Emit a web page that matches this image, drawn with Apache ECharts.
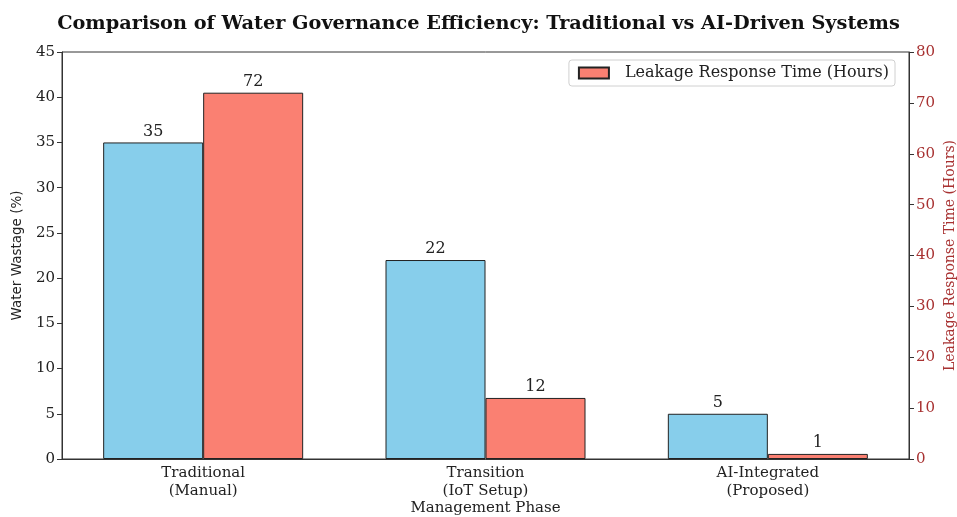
<!DOCTYPE html>
<html>
<head>
<meta charset="utf-8">
<script src="https://cdn.jsdelivr.net/npm/echarts@6/dist/echarts.min.js"></script>
<style>html,body{margin:0;padding:0;background:#fff;}#c{width:957px;height:517px;}</style>
</head>
<body>
<div id="c"></div>
<script>
const categories = ['Traditional\n(Manual)', 'Transition\n(IoT Setup)', 'AI-Integrated\n(Proposed)'];
const wastage = [35, 22, 5];
const responseTime = [72, 12, 1];
const leftTicks = {min: 0, max: 45, interval: 5};
const rightTicks = {min: 0, max: 80, interval: 10};

const serif = '"DejaVu Serif", serif';
const red = '#a83232';
const chart = echarts.init(document.getElementById('c'));
chart.setOption({
  backgroundColor: '#fff',
  animation: false,
  title: {
    text: 'Comparison of Water Governance Efficiency: Traditional vs AI-Driven Systems',
    left: 'center', top: 9,
    textStyle: {fontFamily: serif, fontWeight: 'bold', fontSize: 19.3, color: '#111'}
  },
  legend: {
    data: ['Leakage Response Time (Hours)'],
    right: 62, top: 60, icon: 'rect',
    itemWidth: 30, itemHeight: 11, itemGap: 10,
    borderColor: '#d0d0d0', borderWidth: 1, borderRadius: 3,
    padding: [5, 6, 5, 9], backgroundColor: '#fff',
    textStyle: {fontFamily: serif, fontSize: 16, color: '#222', padding: [0, 0, 0, 11]}
  },
  grid: {left: 62, right: 48, top: 52, bottom: 58, outerBoundsMode: 'none', containLabel: false,
    show: true, borderColor: '#333', borderWidth: 1, backgroundColor: 'transparent'},
  xAxis: {
    type: 'category', data: categories,
    name: 'Management Phase', nameLocation: 'middle', nameGap: 42, nameMoveOverlap: false,
    nameTextStyle: {fontFamily: serif, fontSize: 15, color: '#222'},
    axisLine: {lineStyle: {color: '#333'}},
    axisTick: {alignWithLabel: true, length: 5, lineStyle: {color: '#333'}},
    axisLabel: {fontFamily: serif, fontSize: 15, color: '#222', lineHeight: 18, margin: 5}
  },
  yAxis: [{
    type: 'value', min: leftTicks.min, max: leftTicks.max, interval: leftTicks.interval,
    name: 'Water Wastage (%)', nameLocation: 'middle', nameGap: 38, nameMoveOverlap: false,
    nameTextStyle: {fontFamily: '"DejaVu Sans", sans-serif', fontSize: 13.5, color: '#222'},
    axisLine: {show: true, lineStyle: {color: '#333'}},
    axisTick: {show: true, length: 5, lineStyle: {color: '#333'}},
    axisLabel: {fontFamily: serif, fontSize: 15, color: '#222', margin: 7},
    splitLine: {show: false}
  }, {
    type: 'value', min: rightTicks.min, max: rightTicks.max, interval: rightTicks.interval,
    position: 'right',
    name: 'Leakage Response Time (Hours)', nameLocation: 'middle', nameGap: 34, nameRotate: 90, nameMoveOverlap: false,
    nameTextStyle: {fontFamily: serif, fontSize: 14, color: red},
    axisLine: {show: true, lineStyle: {color: '#333'}},
    axisTick: {show: true, length: 5, lineStyle: {color: '#333'}},
    axisLabel: {fontFamily: serif, fontSize: 15, color: red, margin: 7},
    splitLine: {show: false}
  }],
  series: [{
    name: 'Water Wastage (%)', type: 'bar', yAxisIndex: 0, data: wastage,
    barWidth: 100, barGap: '0%',
    itemStyle: {color: '#87CEEB', borderColor: '#222', borderWidth: 1},
    label: {show: true, position: 'top', distance: 3, fontFamily: serif, fontSize: 16, color: '#222'}
  }, {
    name: 'Leakage Response Time (Hours)', type: 'bar', yAxisIndex: 1, data: responseTime,
    barWidth: 100, barGap: '0%',
    itemStyle: {color: '#FA8072', borderColor: '#222', borderWidth: 1},
    label: {show: true, position: 'top', distance: 3, fontFamily: serif, fontSize: 16, color: '#222'}
  }]
});
</script>
</body>
</html>
